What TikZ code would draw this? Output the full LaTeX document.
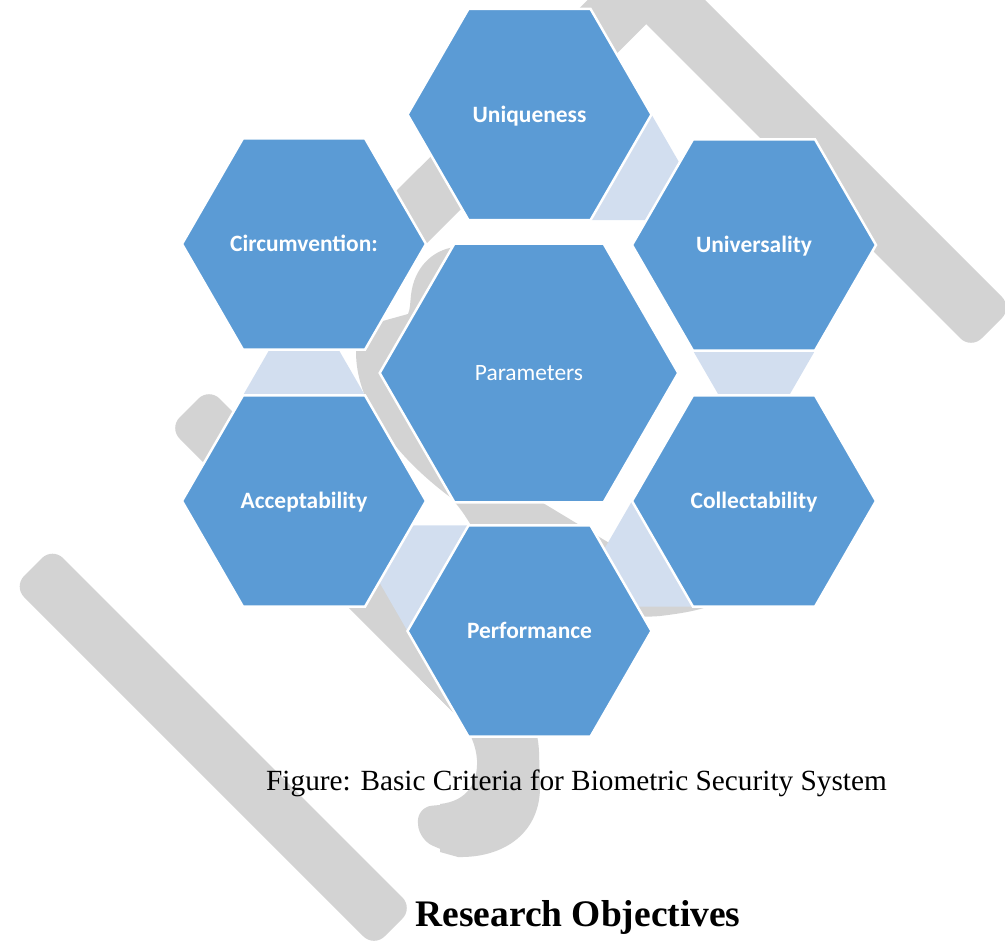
\documentclass[tikz,border=0pt]{standalone}
\usepackage{fontspec}
\setmainfont{Liberation Serif}
\newfontfamily\cellfont{Carlito}
\usetikzlibrary{calc}

\definecolor{cellblue}{HTML}{5B9BD5}
\definecolor{linkblue}{HTML}{D2DEEF}
\definecolor{emblemgray}{HTML}{D3D3D3}

\begin{document}
\begin{tikzpicture}[x=0.3mm, y=-0.3mm,
  hexagon at/.style 2 args={insert path={(#1) ++(0:#2) -- ++(120:#2) -- ++(180:#2)
      -- ++(240:#2) -- ++(300:#2) -- ++(0:#2) -- cycle}},
  cell/.style={fill=cellblue, draw=white, line width=2.1pt, line join=miter},
  link/.style={fill=linkblue},
  emblem/.style={fill=emblemgray},
  emblemround/.style={fill=emblemgray, rounded corners=4.5mm},
  cellname/.style={text=white, inner sep=0pt, text height=12.9pt, text depth=0pt,
      font=\cellfont\bfseries\fontsize{20}{24}\selectfont},
  hubname/.style={cellname, font=\cellfont\fontsize{20}{24}\selectfont},
]
\useasboundingbox (0,0) rectangle (1005,948);
\clip (0,0) rectangle (1005,948);

% hexagon centres
\coordinate (cU) at (529.5,114.5);  % Uniqueness
\coordinate (cV) at (754,245);      % Universality
\coordinate (cC) at (754,501);      % Collectability
\coordinate (cP) at (529.5,631);    % Performance
\coordinate (cA) at (304,501);      % Acceptability
\coordinate (cX) at (304,244);      % Circumvention
\coordinate (cM) at (529,373);      % Parameters
\def\R{122}
\def\A{211.3}

% grey background emblem
\fill[emblemround] (600,-105) -- (1012.5,307.5) -- (971,349) -- (559,-63) -- cycle;
\fill[emblem] (698,-110) -- (739.5,-69) -- (372,298) -- (330.5,256.5) -- cycle;
\fill[emblem] (470,262) -- (455,247) .. controls (432,250) and (414,268) .. (411,295)
  .. controls (410,305) and (410,310) .. (408,314) -- (372,324) -- (358,345) -- (356,352)
  .. controls (356,400) and (390,452) .. (450,497)
  .. controls (458,505) and (465,515) .. (472,527)
  .. controls (520,585) and (590,622) .. (660,616)
  .. controls (685,613) and (700,610) .. (712,605)
  -- (543,503) -- (500,470) -- (480,300) -- cycle;
\fill[emblemround] (169,428) -- (209,388) -- (520,699) -- (480,739) -- cycle;
\fill[emblem] (480,659) -- (495,674) .. controls (525,704) and (538,722) .. (539,752)
  -- (540,785) .. controls (541,832) and (505,858) .. (458,857) -- (440,852)
  -- (440,804) .. controls (468,801) and (478,782) .. (477,760)
  .. controls (476,745) and (470,732) .. (460,719) -- (420,679) -- cycle;
\fill[emblemround] (462,803) -- (417,807) -- (419,840) -- (462,858) -- cycle;
\fill[emblemround] (52.5,547.5) -- (413,908) -- (374,947) -- (13.5,586.5) -- cycle;

% links between neighbouring cells
\fill[link] ($(cU)+(0:\R)$) -- ($(cU)+(60:\R)$) -- ($(cU)+(30:\A)$) -- cycle;
\fill[link] ($(cV)+(60:\R)$) -- ($(cV)+(120:\R)$) -- ($(cV)+(90:\A)$) -- cycle;
\fill[link] ($(cC)+(120:\R)$) -- ($(cC)+(180:\R)$) -- ($(cC)+(150:\A)$) -- cycle;
\fill[link] ($(cP)+(180:\R)$) -- ($(cP)+(240:\R)$) -- ($(cP)+(210:\A)$) -- cycle;
\fill[link] ($(cA)+(240:\R)$) -- ($(cA)+(300:\R)$) -- ($(cA)+(270:\A)$) -- cycle;

% cells
\foreach \c in {cU,cV,cC,cP,cA,cX}
  \path[cell, hexagon at={\c}{\R}];
\path[cell, hexagon at={cM}{149.3}];

% cell labels
\node[cellname] (uni) at (cU) {Uniqueness};
\node[cellname] (univ) at (cV) {Universality};
\node[cellname] (coll) at (cC) {Collectability};
\node[cellname] (perf) at (cP) {Performance};
\node[cellname] (acc) at (cA) {Acceptability};
\node[cellname] (circ) at (cX) {Circumvention:};
\node[hubname] (hub) at (cM) {Parameters};

% caption and heading
\node[anchor=base, inner sep=0pt, font=\fontsize{25}{30}\selectfont] (caption) at (576.5,790)
  {Figure: Basic Criteria for Biometric Security System};
\node[anchor=base, inner sep=0pt, font=\bfseries\fontsize{32}{38}\selectfont] (heading) at (578,926)
  {Research Objectives};
\end{tikzpicture}
\end{document}
